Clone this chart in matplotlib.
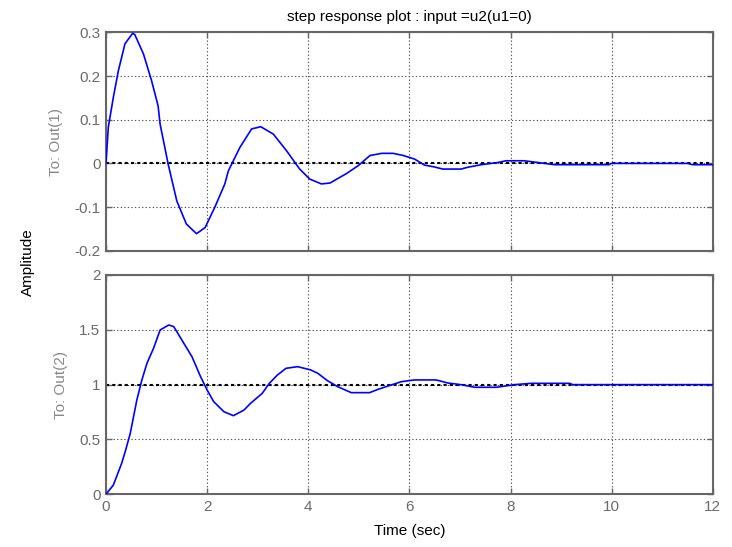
import matplotlib
matplotlib.use('Agg')
import matplotlib.pyplot as plt

plt.rcParams['font.family'] = ['Liberation Sans', 'DejaVu Sans']

# Out(1)
t1 = [0, 0.046, 0.145, 0.244, 0.375, 0.527, 0.57, 0.74, 0.90, 1.03, 1.07, 1.23, 1.40, 1.59,
      1.79, 1.96, 2.15, 2.35, 2.42, 2.65, 2.88, 3.06, 3.31, 3.57, 3.83, 4.03, 4.26, 4.43,
      4.76, 4.99, 5.22, 5.45, 5.68, 5.88, 6.10, 6.30, 6.49, 6.66, 7.02, 7.15, 7.42, 7.75,
      7.91, 8.27, 8.54, 8.87, 9.95, 9.99, 11.5, 11.6, 12.0]
y1 = [0, 0.083, 0.151, 0.212, 0.274, 0.298, 0.295, 0.251, 0.190, 0.132, 0.090, -0.002, -0.086, -0.139,
      -0.161, -0.147, -0.101, -0.047, -0.017, 0.037, 0.079, 0.084, 0.067, 0.029, -0.013, -0.036, -0.047, -0.045,
      -0.023, -0.005, 0.018, 0.023, 0.023, 0.018, 0.010, -0.004, -0.008, -0.013, -0.013, -0.009, -0.003, 0.002,
      0.006, 0.006, 0.002, -0.003, -0.003, 0.0, 0.0, -0.003, -0.003]

# Out(2)
t2 = [0, 0.146, 0.31, 0.38, 0.48, 0.61, 0.71, 0.81, 0.94, 1.07, 1.24, 1.34, 1.50, 1.70, 1.87,
      2.0, 2.13, 2.33, 2.52, 2.73, 2.86, 3.09, 3.23, 3.39, 3.56, 3.79, 4.05, 4.19, 4.38, 4.58,
      4.85, 5.21, 5.38, 5.58, 5.84, 6.10, 6.53, 6.76, 7.02, 7.29, 7.72, 8.08, 8.41, 9.17, 9.23, 12.0]
y2 = [0, 0.085, 0.283, 0.389, 0.556, 0.86, 1.043, 1.195, 1.331, 1.498, 1.544, 1.529, 1.407, 1.255, 1.073,
      0.951, 0.845, 0.754, 0.717, 0.769, 0.830, 0.921, 1.012, 1.088, 1.149, 1.164, 1.134, 1.103, 1.036, 0.982,
      0.927, 0.927, 0.957, 0.988, 1.027, 1.043, 1.043, 1.015, 1.0, 0.976, 0.976, 1.0, 1.012, 1.012, 1.0, 1.0]

xticks = [0, 2, 4, 6, 8, 10, 12]
yticks1 = [-0.2, -0.1, 0, 0.1, 0.2, 0.3]
ytick_labels1 = ['-0.2', '-0.1', '0', '0.1', '0.2', '0.3']
yticks2 = [0, 0.5, 1, 1.5, 2]
ytick_labels2 = ['0', '0.5', '1', '1.5', '2']

fig = plt.figure(figsize=(7.32, 5.47), dpi=100)
ax1 = fig.add_axes([0.1448, 0.5417, 0.829, 0.399])
ax2 = fig.add_axes([0.1448, 0.0963, 0.829, 0.401])

frame = '#666666'
fs = 11
for ax, t, y, yt, ytl, ref, lim in [
        (ax1, t1, y1, yticks1, ytick_labels1, 0, (-0.2, 0.3)),
        (ax2, t2, y2, yticks2, ytick_labels2, 1, (0, 2))]:
    ax.plot(t, y, color='#0000ff', lw=1.2, zorder=3)
    ax.axhline(ref, color='black', ls=(0, (1.5, 1.5)), lw=1.5, zorder=2)
    ax.set_xlim(0, 12)
    ax.set_ylim(*lim)
    ax.set_xticks(xticks)
    ax.set_yticks(yt)
    ax.set_yticklabels(ytl)
    ax.grid(True, color='#555555', ls=(0, (1.2, 2)), lw=0.8)
    ax.tick_params(direction='in', top=True, right=True, length=4, color=frame,
                   labelcolor='#6a6a6a', labelsize=fs, width=1, pad=4)
    for s in ax.spines.values():
        s.set_color(frame)
        s.set_linewidth(1.5)

ax1.set_xticklabels([])
ax2.set_xticklabels([str(v) for v in xticks])
ax1.set_ylabel('To: Out(1)', color='#888888', fontsize=fs, labelpad=8)
ax2.set_ylabel('To: Out(2)', color='#888888', fontsize=fs, labelpad=8)

ax1.set_title('step response plot : input =u2(u1=0)', fontsize=fs, pad=8)
ax2.set_xlabel('Time (sec)', fontsize=fs, labelpad=7)
fig.text(0.038, 0.52, 'Amplitude', rotation=90, ha='center', va='center', fontsize=fs)

fig.savefig('out.png', dpi=100)
